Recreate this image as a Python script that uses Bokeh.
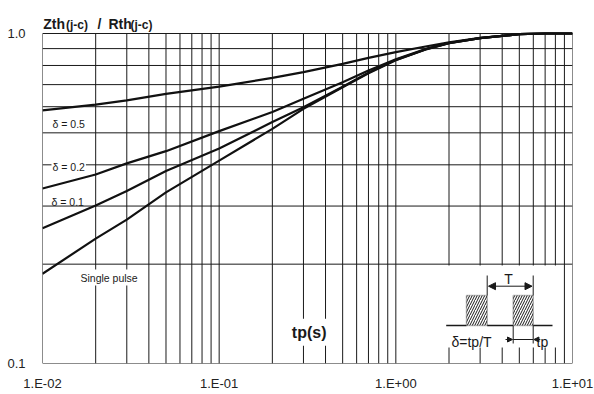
from bokeh.plotting import figure
from bokeh.models import FixedTicker, Label, BoxAnnotation, Arrow, NormalHead
from bokeh.embed import file_html
from bokeh.resources import INLINE

# ---- data ----
tp = [0.01, 0.02, 0.03, 0.05, 0.1, 0.2, 0.3, 0.5, 0.7, 1, 1.5, 2, 3, 5, 7, 10]
z_d05 = [0.585, 0.609, 0.627, 0.656, 0.690, 0.734, 0.764, 0.809, 0.844, 0.878, 0.915, 0.940, 0.970, 0.995, 1.0, 1.0]
z_d02 = [0.339, 0.374, 0.404, 0.440, 0.506, 0.578, 0.634, 0.712, 0.772, 0.835, 0.900, 0.936, 0.968, 0.995, 1.0, 1.0]
z_d01 = [0.257, 0.301, 0.333, 0.383, 0.448, 0.539, 0.598, 0.690, 0.760, 0.832, 0.898, 0.935, 0.968, 0.995, 1.0, 1.0]
z_single = [0.187, 0.239, 0.273, 0.330, 0.412, 0.514, 0.591, 0.687, 0.758, 0.830, 0.897, 0.935, 0.968, 0.995, 1.0, 1.0]

x_major = [0.01, 0.1, 1, 10]
x_major_labels = ["1.E-02", "1.E-01", "1.E+00", "1.E+01"]
y_major = [0.1, 1.0]
y_major_labels = ["0.1", "1.0"]
x_grid = [m * d for d in (0.01, 0.1, 1) for m in range(1, 10)] + [10]
y_grid = [0.1 * m for m in range(1, 11)]

FONT = "Liberation Sans"
INK = "#1a1a1a"

# frame extends above 1.0 so the title (drawn as labels) stays inside it
p = figure(width=594, height=394, x_axis_type="log", y_axis_type="log",
           x_range=(x_major[0], x_major[-1]), y_range=(y_major[0], 10 ** 0.1),
           output_backend="svg", toolbar_location=None,
           min_border_left=42, min_border_right=22,
           min_border_top=0, min_border_bottom=31)
p.background_fill_color = "white"
p.border_fill_color = "white"
p.outline_line_color = None
p.xgrid.visible = False
p.ygrid.visible = False

# grid drawn over the 0.1..1.0 band only
p.segment(x0=x_grid, x1=x_grid, y0=[y_major[0]] * len(x_grid), y1=[y_major[-1]] * len(x_grid),
          line_color=INK, line_width=1)
p.segment(x0=[x_major[0]] * len(y_grid), x1=[x_major[-1]] * len(y_grid), y0=y_grid, y1=y_grid,
          line_color=INK, line_width=1)

# axes
p.xaxis.ticker = FixedTicker(ticks=x_major)
p.xaxis.major_label_overrides = {v: s for v, s in zip(x_major, x_major_labels)}
p.yaxis.ticker = FixedTicker(ticks=y_major)
p.yaxis.major_label_overrides = {v: s for v, s in zip(y_major, y_major_labels)}
for ax in (p.xaxis, p.yaxis):
    ax.axis_line_color = None
    ax.major_tick_line_color = None
    ax.minor_tick_line_color = None
    ax.major_label_text_font = FONT
    ax.major_label_text_font_size = "13px"
    ax.major_label_text_color = "#222222"
p.xaxis.major_label_standoff = 6
p.yaxis.major_label_standoff = 11
p.yaxis.major_label_orientation = "horizontal"

# curves
for ys in (z_d05, z_d02, z_d01, z_single):
    p.line(tp, ys, line_color="#111111", line_width=2.2)

def lab(text, x, y, size, bold=False, align="left", baseline="alphabetic", bg=None, pad=0):
    l = Label(x=x, y=y, x_units="screen", y_units="screen", text=text,
              text_font=FONT, text_font_size=size,
              text_font_style="bold" if bold else "normal",
              text_align=align, text_baseline=baseline, text_color=INK)
    if bg:
        l.background_fill_color = bg
        l.padding = pad
    p.add_layout(l)
    return l

# title pieces (screen units: from the frame's bottom-left)
lab("Zth", 0.7, 340, "14px", bold=True)
lab("(j-c)", 23.5, 339, "12px", bold=True)
lab("/", 55, 340, "14px", bold=True)
lab("Rth", 66, 340, "14px", bold=True)
lab("(j-c)", 88, 339, "12px", bold=True)

# curve labels
lab("\u03b4 = 0.5", 10, 240, "10.5px", baseline="middle")
lab("\u03b4 = 0.2", 9, 197, "10.5px", baseline="middle", bg="white", pad=1)
lab("\u03b4 = 0.1", 9, 162, "10.5px", baseline="middle")
lab("Single pulse", 36, 86, "10.5px", baseline="middle", bg="white", pad=2)

# axis title
lab("tp(s)", 266.7, 31.3, "16px", bold=True, align="center", baseline="middle", bg="white", pad=5)

# ---- inset pulse diagram ----
def box(l, r, b, t, **kw):
    bx = BoxAnnotation(left=l, right=r, bottom=b, top=t,
                       left_units="screen", right_units="screen",
                       bottom_units="screen", top_units="screen", **kw)
    p.add_layout(bx)

def seg(x0, y0, x1, y1, w=1.5, end=None, start=None):
    a = Arrow(x_start=x0, y_start=y0, x_end=x1, y_end=y1,
              start_units="screen", end_units="screen",
              line_color=INK, line_width=w, start=start, end=end)
    p.add_layout(a)

box(398, 516, 16, 98, fill_color="white", fill_alpha=1, line_color=None)
box(424, 444.7, 38, 68, fill_color="white", fill_alpha=1, line_color=INK,
    line_width=1.5, hatch_pattern="/", hatch_color=INK, hatch_scale=5, hatch_weight=1)
box(470.7, 490.7, 38, 68, fill_color="white", fill_alpha=1, line_color=INK,
    line_width=1.5, hatch_pattern="/", hatch_color=INK, hatch_scale=5, hatch_weight=1)
seg(403.7, 38, 424, 38)
seg(444.7, 38, 470.7, 38)
seg(490.7, 38, 510, 38)
# T dimension
seg(444.7, 68, 444.7, 88, w=1)
seg(490.7, 68, 490.7, 88, w=1)
seg(446, 77.3, 489.5, 77.3, w=1,
    start=NormalHead(size=7, fill_color=INK, line_color=INK),
    end=NormalHead(size=7, fill_color=INK, line_color=INK))
lab("T", 466, 85, "14px", align="center", baseline="middle")
# tp dimension
seg(470.7, 20, 470.7, 38, w=1)
seg(490.7, 20, 490.7, 38, w=1)
seg(470.7, 24, 490.7, 24, w=1)
seg(463, 24, 470, 24, w=1, end=NormalHead(size=5, fill_color=INK, line_color=INK))
seg(497, 24, 491.4, 24, w=1, end=NormalHead(size=5, fill_color=INK, line_color=INK))
lab("\u03b4=tp/T", 409, 22, "14px", baseline="middle")
lab("tp", 494, 22, "14px", baseline="middle")

open("out.html", "w").write(file_html(p, INLINE))
